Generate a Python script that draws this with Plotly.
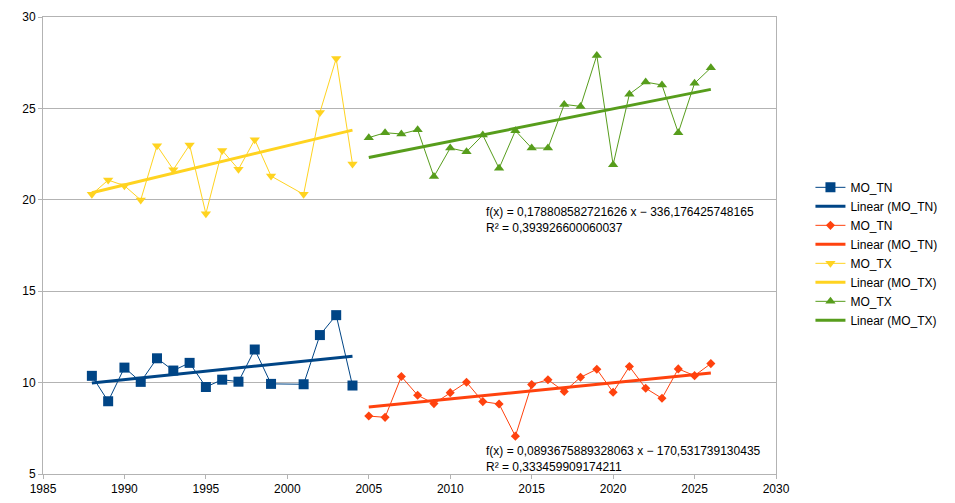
import numpy as np
import plotly.graph_objects as go

# early period (2000 missing)
years_early = [1988, 1989, 1990, 1991, 1992, 1993, 1994, 1995, 1996, 1997, 1998, 1999, 2001, 2002, 2003, 2004]
tn_early = [10.37, 8.98, 10.82, 10.04, 11.33, 10.66, 11.08, 9.76, 10.16, 10.05, 11.81, 9.93, 9.91, 12.60, 13.69, 9.84]
tx_early = [20.30, 21.08, 20.77, 19.99, 22.96, 21.65, 23.00, 19.24, 22.70, 21.67, 23.29, 21.30, 20.30, 24.78, 27.73, 21.96]

# late period
years_late = list(range(2005, 2027))
tn_late = [8.17, 8.10, 10.33, 9.31, 8.85, 9.45, 10.02, 8.96, 8.83, 7.07, 9.89,
           10.16, 9.51, 10.29, 10.73, 9.47, 10.88, 9.69, 9.14, 10.75, 10.38, 11.04]
tx_late = [23.40, 23.67, 23.60, 23.83, 21.27, 22.83, 22.63, 23.54, 21.72, 23.78, 22.83,
           22.83, 25.22, 25.11, 27.90, 21.92, 25.78, 26.44, 26.28, 23.67, 26.37, 27.22]

eq_tx = "f(x) = 0,178808582721626 x − 336,176425748165<br>R² = 0,393926600060037"
eq_tn = "f(x) = 0,0893675889328063 x − 170,531739130435<br>R² = 0,333459909174211"

BLUE = "#004586"
RED = "#ff420e"
YELLOW = "#ffd320"
GREEN = "#579d1c"

series = [
    ("MO_TN", years_early, tn_early, BLUE, "square", 10),
    ("MO_TN", years_late, tn_late, RED, "diamond", 7),
    ("MO_TX", years_early, tx_early, YELLOW, "triangle-down", 9),
    ("MO_TX", years_late, tx_late, GREEN, "triangle-up", 9),
]

fig = go.Figure()
for name, xs, ys, color, symbol, msize in series:
    fig.add_trace(go.Scatter(
        x=xs, y=ys, name=name, mode="lines+markers",
        line=dict(color=color, width=1),
        marker=dict(symbol=symbol, size=msize, color=color),
    ))
    slope, icpt = np.polyfit(xs, ys, 1)
    ends = np.array([xs[0], xs[-1]])
    fig.add_trace(go.Scatter(
        x=ends, y=slope * ends + icpt, name=f"Linear ({name})", mode="lines",
        line=dict(color=color, width=3),
    ))

fig.add_annotation(x=2012.1, y=18.92, xref="x", yref="y", text=eq_tx, showarrow=False,
                   xanchor="left", yanchor="middle", align="left")
fig.add_annotation(x=2012.05, y=5.80, xref="x", yref="y", text=eq_tn, showarrow=False,
                   xanchor="left", yanchor="middle", align="left")

axis_style = dict(showline=True, linecolor="#b3b3b3", linewidth=1, mirror=True,
                  ticks="outside", ticklen=4, tickcolor="#b3b3b3", zeroline=False,
                  automargin=False)
fig.update_xaxes(range=[1985, 2030], dtick=5, showgrid=False, **axis_style)
fig.update_yaxes(range=[5, 30], dtick=5, showgrid=True, gridcolor="#b3b3b3", **axis_style)

# page body adds ~8px offset, so margins are shifted up/left
fig.update_layout(
    width=955, height=503,
    margin=dict(l=35, r=187, t=9, b=37),
    paper_bgcolor="white", plot_bgcolor="white",
    font=dict(family="Liberation Sans, Arial, sans-serif", size=12, color="black"),
    legend=dict(x=1.047, y=0.659, xanchor="left", yanchor="top", bgcolor="rgba(0,0,0,0)",
                tracegroupgap=0, font=dict(size=12)),
)

fig.write_html("out.html")
